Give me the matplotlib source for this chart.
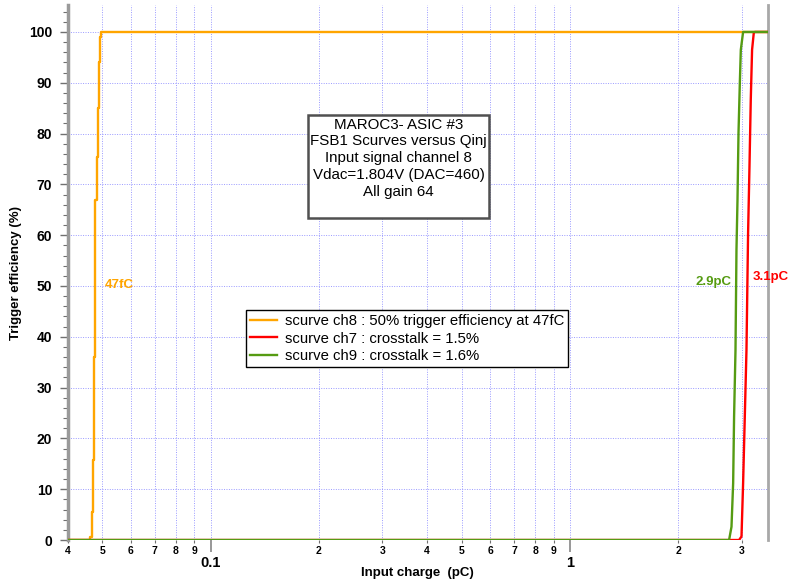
import matplotlib
matplotlib.use('Agg')
import matplotlib.pyplot as plt

plt.rcParams['font.family'] = ['Liberation Sans', 'DejaVu Sans']

# scurve ch8 (injected channel), step levels
ch8_q = [0.040, 0.0462, 0.0469, 0.0472, 0.0475, 0.0478, 0.0482, 0.0485, 0.0488, 0.0492, 0.0496, 3.55]
ch8_eff = [0, 0.6, 5.5, 15.7, 36, 67, 75.4, 85, 94, 99, 100, 100]

# scurve ch7 (neighbour, crosstalk)
ch7_q = [0.040, 2.950, 2.996, 3.027, 3.060, 3.093, 3.125, 3.153, 3.179, 3.206, 3.241, 3.262, 3.55]
ch7_eff = [0, 0, 0.7, 11.2, 24.3, 37.4, 60.4, 73.5, 86.6, 96.5, 99.8, 100, 100]

# scurve ch9 (neighbour, crosstalk)
ch9_q = [0.040, 2.767, 2.810, 2.840, 2.857, 2.883, 2.901, 2.920, 2.939, 2.964, 2.983, 3.027, 3.55]
ch9_eff = [0, 0, 2.6, 11.2, 24.3, 37.4, 57.1, 66.9, 80.1, 89.9, 96.5, 100, 100]

labels = ['scurve ch8 : 50% trigger efficiency at 47fC',
          'scurve ch7 : crosstalk = 1.5%',
          'scurve ch9 : crosstalk = 1.6%']

x_major = [0.1, 1]
x_major_labels = ['0.1', '1']
x_minor = [0.04, 0.05, 0.06, 0.07, 0.08, 0.09,
           0.2, 0.3, 0.4, 0.5, 0.6, 0.7, 0.8, 0.9, 2, 3]
x_minor_labels = ['4', '5', '6', '7', '8', '9',
                  '2', '3', '4', '5', '6', '7', '8', '9', '2', '3']
y_major = list(range(0, 101, 10))
y_minor = list(range(0, 105, 2))

c_orange = '#FFA500'
c_red = '#FF0000'
c_green = '#559B12'

fig = plt.figure(figsize=(7.98, 5.85), dpi=100)
ax = fig.add_axes([0.0846, 0.0769, 0.8778, 0.9145])

ax.plot(ch8_q, ch8_eff, color=c_orange, lw=1.7, drawstyle='steps-post', label=labels[0], zorder=3)
ax.plot(ch7_q, ch7_eff, color=c_red, lw=1.7, label=labels[1], zorder=4)
ax.plot(ch9_q, ch9_eff, color=c_green, lw=1.7, label=labels[2], zorder=5)

ax.set_xscale('log')
ax.set_xlim(0.04, 3.55)
ax.set_ylim(0, 105.3)

ax.set_xticks(x_major, labels=x_major_labels, fontsize=10.5, fontweight='bold')
ax.set_xticks(x_minor, labels=x_minor_labels, minor=True, fontsize=7.5, fontweight='bold')
ax.set_yticks(y_major, labels=[str(v) for v in y_major], fontsize=10, fontweight='bold')
ax.set_yticks(y_minor, minor=True)

ax.tick_params(axis='x', which='major', length=8.6, width=1.3, color='#909090', pad=3)
ax.tick_params(axis='x', which='minor', length=2.5, width=0.8, color='#707070', pad=2)
ax.tick_params(axis='y', which='major', length=6, width=1, color='#707070', pad=5)
ax.tick_params(axis='y', which='minor', length=3.6, width=0.8, color='#707070')

grid_kw = dict(color='#9a9aff', linestyle=(0, (1, 1.5)), linewidth=0.7)
ax.grid(True, axis='x', which='both', **grid_kw)
ax.grid(True, axis='y', which='major', **grid_kw)
ax.set_axisbelow(True)

for side in ['top', 'bottom']:
    ax.spines[side].set_visible(False)
ax.spines['left'].set_color('#9a9a9a')
ax.spines['left'].set_linewidth(2.5)
ax.spines['right'].set_color('#a8a8a8')
ax.spines['right'].set_linewidth(2)

ax.set_xlabel('Input charge  (pC)', fontsize=9.5, fontweight='bold')
ax.xaxis.set_label_coords(0.5, -0.05)
ax.set_ylabel('Trigger efficiency (%)', fontsize=9.5, fontweight='bold')
ax.yaxis.set_label_coords(-0.065, 0.5)

# 50% points of each curve
ax.text(0.0508, 50.2, '47fC', color=c_orange, fontsize=9.5, fontweight='bold', ha='left', va='center')
ax.text(2.815, 50.8, '2.9pC', color=c_green, fontsize=9.5, fontweight='bold', ha='right', va='center')
ax.text(3.221, 51.8, '3.1pC', color=c_red, fontsize=9.5, fontweight='bold', ha='left', va='center',
        clip_on=False)

info = ('MAROC3- ASIC #3\nFSB1 Scurves versus Qinj\nInput signal channel 8\n'
        'Vdac=1.804V (DAC=460)\nAll gain 64\n ')
ax.text(0.4725, 0.698, info, transform=ax.transAxes, ha='center', va='center',
        multialignment='center', fontsize=10.9, linespacing=1.25, zorder=6,
        bbox=dict(boxstyle='square,pad=0.15', fc='white', ec='#505050', lw=1.8))

leg = ax.legend(loc='upper left', bbox_to_anchor=(0.2548, 0.43), borderaxespad=0,
                fontsize=10.7, fancybox=False, framealpha=1, edgecolor='black',
                labelspacing=0.22, borderpad=0.3, handlelength=1.8, handletextpad=0.5)
leg.get_frame().set_linewidth(1.0)
leg.set_zorder(7)

fig.savefig('out.png', dpi=100)
